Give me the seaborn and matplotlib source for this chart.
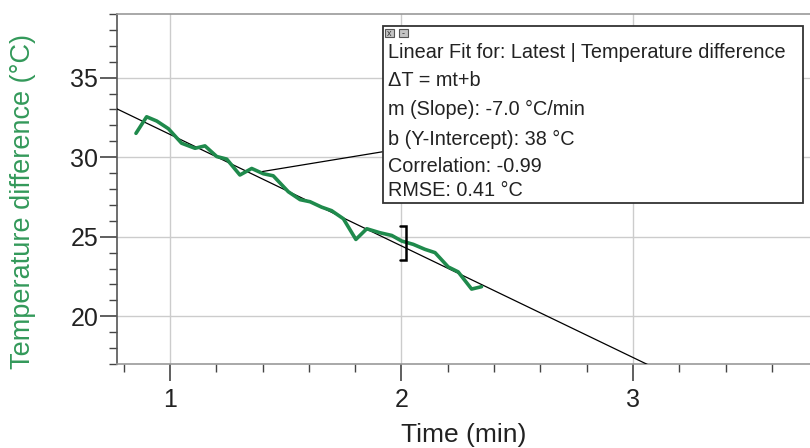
import numpy as np
import matplotlib
matplotlib.use("Agg")
import matplotlib.pyplot as plt
import matplotlib.patches as mpatches
from matplotlib.ticker import MultipleLocator
import seaborn as sns
import pandas as pd

# ---- data ----
time_min = [0.853, 0.899, 0.943, 0.993, 1.050, 1.108, 1.151, 1.202, 1.245, 1.302,
            1.353, 1.403, 1.446, 1.511, 1.562, 1.605, 1.655, 1.698, 1.749, 1.803,
            1.850, 1.907, 1.958, 2.001, 2.051, 2.101, 2.145, 2.202, 2.245, 2.303, 2.346]
temp_diff = [31.50, 32.54, 32.27, 31.79, 30.88, 30.56, 30.71, 30.04, 29.88, 28.88,
             29.29, 28.96, 28.83, 27.83, 27.33, 27.20, 26.86, 26.64, 26.13, 24.83,
             25.50, 25.25, 25.08, 24.73, 24.52, 24.21, 24.00, 23.10, 22.79, 21.71, 21.86]
fit_slope = -7.01
fit_intercept = 38.44
x_limits = [0.771, 3.765]
y_limits = [17.0, 39.0]
x_ticks = [1, 2, 3]
y_ticks = [20, 25, 30, 35]
bracket_t = 2.02
bracket_lo, bracket_hi = 23.55, 25.7
leader_t, leader_T = 1.40, 29.1
box_lines = ["Linear Fit for: Latest | Temperature difference",
             "\u0394T = mt+b",
             "m (Slope): -7.0 \u00b0C/min",
             "b (Y-Intercept): 38 \u00b0C",
             "Correlation: -0.99",
             "RMSE: 0.41 \u00b0C"]

sns.set_style("white")
plt.rcParams['font.family'] = ['Liberation Sans', 'DejaVu Sans']

W, H = 810, 448
fig = plt.figure(figsize=(W / 100, H / 100), dpi=100)
ax = fig.add_axes([117 / W, 1 - 364 / H, (W - 117) / W, 350 / H])

df = pd.DataFrame({"t": time_min, "T": temp_diff})
fit_t = np.array(x_limits)
fit_df = pd.DataFrame({"t": fit_t, "T": fit_slope * fit_t + fit_intercept})

sns.lineplot(data=fit_df, x="t", y="T", ax=ax, color="black", lw=0.9, zorder=3)
sns.lineplot(data=df, x="t", y="T", ax=ax, color="#1f8a4c", lw=2.6, sort=False, zorder=4)

# selection bracket
arm = 0.026
ax.plot([bracket_t - arm, bracket_t, bracket_t, bracket_t - arm],
        [bracket_hi, bracket_hi, bracket_lo, bracket_lo], color="black", lw=1.8,
        solid_joinstyle="miter", zorder=5)

ax.set_xlim(x_limits)
ax.set_ylim(y_limits)
ax.set_xticks(x_ticks)
ax.set_yticks(y_ticks)
ax.xaxis.set_minor_locator(MultipleLocator(0.2))
ax.yaxis.set_minor_locator(MultipleLocator(1))
ax.grid(True, which="major", color="#cccccc", lw=1.0)
ax.grid(False, which="minor")
ax.set_axisbelow(True)

ax.tick_params(axis="both", which="both", bottom=True, left=True, top=False, right=False,
               direction="out")
ax.tick_params(axis="both", which="major", length=12, width=1.2, color="#444444",
               labelsize=18, labelcolor="#222222")
ax.tick_params(axis="x", which="major", pad=5)
ax.tick_params(axis="y", which="major", pad=1.5)
ax.tick_params(axis="both", which="minor", length=5.5, width=1.0, color="#444444")

for s in ["top", "bottom"]:
    ax.spines[s].set_color("#999999")
    ax.spines[s].set_linewidth(1.2)
ax.spines["left"].set_color("#555555")
ax.spines["left"].set_linewidth(1.2)
ax.spines["right"].set_visible(False)

ax.set_xlabel("Time (min)", fontsize=19, color="#222222", va="center")
ax.xaxis.set_label_coords(0.5, -(435 - 364) / 350)
ax.set_ylabel("Temperature difference (\u00b0C)", fontsize=19.5, color="#33995a", va="center")
ax.yaxis.set_label_coords((23 - 117) / (W - 117), 0.465)

# annotation box
bx0, by0, bx1, by1 = 383, 26, 803, 203
box = mpatches.Rectangle((bx0 / W, 1 - by1 / H), (bx1 - bx0) / W, (by1 - by0) / H,
                         transform=fig.transFigure, facecolor="white",
                         edgecolor="#333333", lw=1.3, zorder=10)
fig.add_artist(box)
# leader line
ax.annotate("", xy=(leader_t, leader_T), xycoords="data",
            xytext=(bx0 / W, 1 - 151.7 / H), textcoords="figure fraction",
            arrowprops=dict(arrowstyle="-", color="black", lw=0.9, shrinkA=0, shrinkB=0),
            zorder=6)

line_y = [52.7, 80.7, 109, 139, 166, 190]
for txt, yy in zip(box_lines, line_y):
    fig.text(388 / W, 1 - yy / H, txt, fontsize=14.3, color="#222222",
             ha="left", va="center", zorder=11)

# small window icons
for ix0, ch in [(385, "x"), (399, "-")]:
    icon = mpatches.Rectangle((ix0 / W, 1 - 37 / H), 8.5 / W, 8 / H,
                              transform=fig.transFigure, facecolor="#c4c4c4",
                              edgecolor="#555555", lw=0.8, zorder=12)
    fig.add_artist(icon)
    fig.text((ix0 + 4.2) / W, 1 - 33.5 / H, ch, fontsize=6.5, color="#333333",
             ha="center", va="center", zorder=13)

fig.savefig("out.png", dpi=100)
